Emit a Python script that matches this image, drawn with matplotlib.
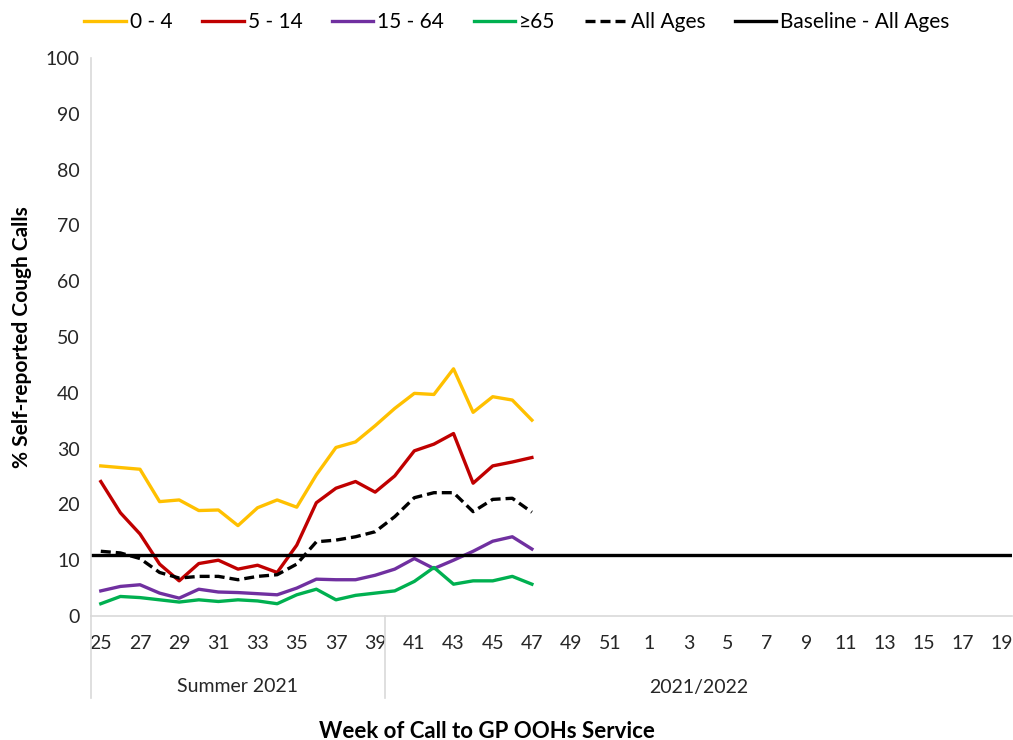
import matplotlib.pyplot as plt
import numpy as np

plt.rcParams['font.family'] = ['Lato', 'DejaVu Sans']

weeks = list(range(25, 53)) + list(range(1, 20))

# values for weeks 25..47, rest not reported yet
age_0_4 = [26.9, 26.6, 26.3, 20.5, 20.8, 18.9, 19.0, 16.2, 19.4, 20.8, 19.5,
           25.3, 30.2, 31.2, 34.1, 37.2, 39.9, 39.7, 44.3, 36.5, 39.3, 38.7, 35.1]
age_5_14 = [24.1, 18.5, 14.7, 9.3, 6.3, 9.4, 10.0, 8.4, 9.1, 7.8, 12.7,
            20.3, 22.9, 24.1, 22.2, 25.1, 29.6, 30.8, 32.7, 23.8, 26.9, 27.6, 28.4]
age_15_64 = [4.5, 5.3, 5.6, 4.1, 3.2, 4.8, 4.3, 4.2, 4.0, 3.8, 5.0,
             6.6, 6.5, 6.5, 7.3, 8.4, 10.3, 8.5, 10.0, 11.6, 13.4, 14.2, 12.0]
age_65 = [2.2, 3.5, 3.3, 2.9, 2.5, 2.9, 2.6, 2.9, 2.7, 2.2, 3.8,
          4.8, 2.9, 3.7, 4.1, 4.5, 6.2, 8.7, 5.7, 6.3, 6.3, 7.1, 5.7]
all_ages = [11.6, 11.3, 10.3, 7.8, 6.8, 7.1, 7.1, 6.5, 7.1, 7.4, 9.3,
            13.3, 13.6, 14.2, 15.1, 17.8, 21.2, 22.1, 22.1, 18.7, 20.9, 21.1, 18.6]
baseline = 10.9

groups = ['Summer 2021', '2021/2022']
group_sizes = [15, 32]

fig = plt.figure(figsize=(10.13, 7.40), dpi=100)
ax = fig.add_axes([91/1013, 1-616/740, 921/1013, 558/740])

x = np.arange(len(age_0_4))
ax.plot(x, age_0_4, color='#FFC000', lw=2.4, label='0 - 4')
ax.plot(x, age_5_14, color='#C00000', lw=2.4, label='5 - 14')
ax.plot(x, age_15_64, color='#7030A0', lw=2.4, label='15 - 64')
ax.plot(x, age_65, color='#00B050', lw=2.4, label='≥65')
ax.plot(x, all_ages, color='black', lw=2.4, ls=(0, (3, 1.5)), label='All Ages')
ax.plot([-0.5, len(weeks) - 0.5], [baseline, baseline], color='black', lw=2.4,
        label='Baseline - All Ages')

ax.set_xlim(-0.5, len(weeks) - 0.5)
ax.set_ylim(0, 100)
ax.set_yticks(range(0, 101, 10))
ax.set_xticks(range(0, len(weeks), 2))
ax.set_xticklabels([str(w) for w in weeks[::2]])
ax.tick_params(length=0, labelsize=14, colors='#262626')
ax.tick_params(axis='x', pad=14)
ax.tick_params(axis='y', pad=8)

for s in ['top', 'right']:
    ax.spines[s].set_visible(False)
for s in ['left', 'bottom']:
    ax.spines[s].set_color('#D9D9D9')
    ax.spines[s].set_linewidth(1.2)

# group separators below the axis
trans = ax.get_xaxis_transform()
depth = -82 / 558
edges = np.concatenate([[0], np.cumsum(group_sizes)]) - 0.5
for e in edges[:-1]:
    ax.plot([e, e], [0, depth], color='#D9D9D9', lw=1.2, transform=trans, clip_on=False)
for i, g in enumerate(groups):
    mid = (edges[i] + edges[i + 1]) / 2
    ax.text(mid, -71 / 558, g, transform=trans, ha='center', va='center',
            fontsize=14, color='#262626')

ax.set_ylabel('% Self-reported Cough Calls', fontsize=15, fontweight='bold', labelpad=10)
fig.text(487/1013, 1-731/740, 'Week of Call to GP OOHs Service', ha='center', va='center',
         fontsize=16, fontweight='bold')

fig.legend(loc='center', bbox_to_anchor=(517/1013, 1-22/740), ncol=6, frameon=False,
           fontsize=15, handlelength=2.0, handletextpad=0.2, columnspacing=1.4)

plt.savefig('out.png', dpi=100)
